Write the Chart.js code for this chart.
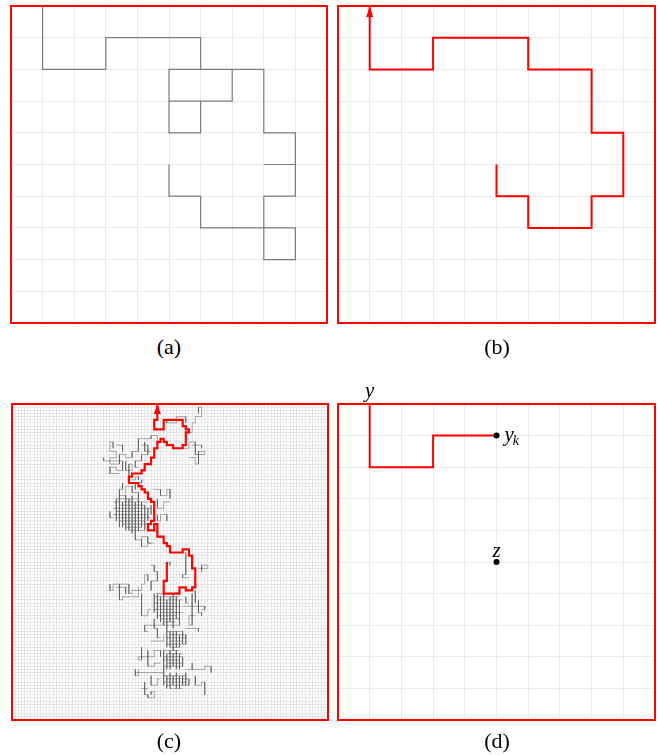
<!DOCTYPE html>
<html>
<head>
<meta charset="utf-8">
<script src="https://cdn.jsdelivr.net/npm/chart.js@4.4.1/dist/chart.umd.min.js"></script>
<style>
  html, body { margin: 0; padding: 0; background: #fff; }
  body { width: 659px; height: 755px; position: relative; overflow: hidden; }
  canvas { position: absolute; }
  .cap { position: absolute; width: 60px; text-align: center; line-height: 1;
         font-family: "Liberation Serif", "Times New Roman", serif; font-size: 22px; color: #000; }
</style>
</head>
<body>
<canvas id="panelA" width="338" height="334" style="left:0;top:0;width:338px;height:334px"></canvas>
<canvas id="panelB" width="331" height="334" style="left:328px;top:0;width:331px;height:334px"></canvas>
<canvas id="panelC" width="338" height="350" style="left:0;top:380px;width:338px;height:350px"></canvas>
<canvas id="panelD" width="331" height="355" style="left:328px;top:375px;width:331px;height:355px"></canvas>
<div class="cap" id="capA" style="left:139px;top:336px"></div>
<div class="cap" id="capB" style="left:467px;top:336px"></div>
<div class="cap" id="capC" style="left:139px;top:730px"></div>
<div class="cap" id="capD" style="left:467px;top:730px"></div>
<script>
// ---- data: lattice coordinates [column, row], rows counted from the top ----

// (a) simple random walk on a 10x10 box, started at z = (5,5)
const walkA = [[5,5],[5,6],[6,6],[6,7],[8,7],[9,7],[9,8],[8,8],[8,6],[9,6],[9,5],[8,5],[9,5],
  [9,4],[8,4],[8,2],[7,2],[7,3],[5,3],[5,4],[6,4],[6,3],[5,3],[5,2],[7,2],[6,2],[6,1],
  [3,1],[3,2],[1,2],[1,0]];

// (b) its loop erasure
const pathB = [[5,5],[5,6],[6,6],[6,7],[8,7],[8,6],[9,6],[9,4],[8,4],[8,2],[6,2],[6,1],
  [3,1],[3,2],[1,2],[1,0]];

// (c) loop-erased path on the 100x100 box
const pathC = [[49,50],[49,56],[48,56],[48,60],[53,60],[53,58],[55,58],[55,59],[57,59],[57,58],
  [58,58],[58,52],[57,52],[57,48],[56,48],[56,46],[54,46],[54,47],[50,47],[50,45],[49,45],
  [49,44],[48,44],[48,42],[46,42],[46,38],[45,38],[45,40],[43,40],[43,38],[44,38],[44,37],
  [45,37],[45,31],[44,31],[44,30],[43,30],[43,28],[42,28],[42,27],[41,27],[41,26],[40,26],
  [40,25],[37,25],[37,23],[38,23],[38,22],[41,22],[41,21],[42,21],[42,19],[44,19],[44,17],
  [45,17],[45,14],[46,14],[46,12],[47,12],[47,11],[48,11],[48,12],[49,12],[49,13],[51,13],
  [51,14],[54,14],[54,13],[55,13],[55,9],[56,9],[56,8],[55,8],[55,7],[54,7],[54,5],[48,5],
  [48,8],[45,8],[45,5],[46,5],[46,0]];

// (c) pieces of the full walk that were erased: open polylines
const cloudPaths = [
  // near the exit
  [[55,9],[57,9],[57,6],[58,6],[58,4],[60,4],[60,1],[59,1],[59,3]],
  [[49,5],[49,6],[52,6],[52,4],[55,4],[55,6]],
  [[54,14],[56,14],[56,12],[58,12],[58,16],[61,16],[61,15],[59,15],[59,19],[58,19],[58,17],[56,17]],
  [[57,13],[60,13],[60,14]],
  // upper left cluster
  [[46,12],[46,10],[44,10],[44,11],[40,11],[40,15],[38,15],[38,17],[36,17],[36,16],[34,16],
   [34,19],[31,19],[31,17],[33,17],[33,15],[31,15],[31,12],[32,12],[32,14]],
  [[29,17],[29,18],[35,18],[35,21],[33,21],[33,20],[31,20],[31,22],[34,22]],
  [[36,18],[36,21],[38,21],[38,19],[37,19],[37,22]],
  [[41,13],[43,13],[43,16],[41,16],[41,18],[39,18],[39,20],[40,20]],
  [[42,12],[42,15],[44,15]],
  [[33,13],[35,13],[35,15]],
  // middle cluster, loose parts
  [[37,22],[37,24],[39,24],[39,23],[40,23],[40,24]],
  [[35,25],[35,27],[34,27],[34,29],[36,29],[36,26],[38,26],[38,28],[40,28],[40,30]],
  [[41,24],[41,25],[39,25],[39,27]],
  [[45,27],[47,27],[47,29],[49,29],[49,27],[50,27],[50,30]],
  [[46,30],[46,33],[48,33],[48,31],[50,31]],
  [[46,35],[46,37],[47,37],[47,35],[49,35],[49,37]],
  [[39,41],[39,43],[41,43],[41,42],[43,42],[43,44],[44,44]],
  [[31,34],[31,36],[32,36]],
  [[44,32],[44,35]],
  // lower cluster, loose parts
  [[41,43],[41,45],[43,45],[43,44],[45,44]],
  [[44,51],[45,51],[45,53],[46,53],[46,56],[44,56],[44,59]],
  [[31,57],[31,59],[32,59],[32,57],[37,57],[37,60],[38,60],[38,59],[41,59],[41,57],[42,57],
   [42,54],[43,54],[43,56]],
  [[34,57],[34,62],[35,62],[35,61],[40,61],[40,58]],
  [[33,58],[36,58],[36,60]],
  [[41,60],[41,67],[43,67],[43,65],[44,65]],
  [[55,47],[55,54],[54,54],[54,55],[56,55]],
  [[49,50],[50,50],[50,51]],
  [[59,52],[62,52],[62,51],[60,51],[60,53]],
  [[58,59],[58,63]],
  [[54,64],[61,64],[61,65],[60,65]],
  [[57,60],[57,70],[56,70],[56,67],[58,67]],
  [[59,62],[59,66],[60,66],[60,67]],
  [[55,61],[55,63],[56,63]],
  [[42,70],[49,70],[49,72]],
  [[42,70],[42,72],[43,72]],
  [[45,68],[45,71],[46,71],[46,74],[47,74]],
  [[44,75],[48,75],[48,73]],
  [[55,71],[59,71],[59,72]],
  [[41,77],[41,81],[40,81],[40,80],[45,80],[45,78],[47,78],[47,80]],
  [[43,78],[43,83],[45,83],[45,82],[47,82]],
  [[39,84],[39,86],[40,86],[40,84]],
  [[39,85],[48,85]],
  [[55,84],[61,84],[61,83],[63,83],[63,85]],
  [[58,86],[58,89],[60,89],[60,88],[61,88],[61,92]],
  [[57,82],[57,84]],
  [[44,86],[44,89],[46,89],[46,87],[47,87]],
  [[42,88],[42,92],[43,92],[43,93],[45,93],[45,91],[44,91],[44,92]],
  [[41,90],[43,90]]
];
// (c) densely revisited patches: horizontal runs [row, fromCol, toCol]
const cloudMeshH = [
  [30,33,40],[31,32,43],[32,34,42],[33,32,44],[34,33,41],[35,32,43],[36,33,44],[37,34,42],
  [38,35,43],[39,36,41],[40,37,42],
  [60,46,52],[61,45,53],[62,46,54],[63,45,52],[64,46,53],[65,45,51],[66,47,54],[67,46,52],
  [68,47,53],[69,48,52],[70,49,53],
  [72,49,54],[73,50,55],[74,49,55],[75,50,54],[76,49,55],[77,50,53],
  [78,48,53],[79,49,54],[80,48,54],[81,48,53],[82,49,54],[83,48,54],
  [86,48,55],[87,49,56],[88,48,55],[89,49,56],[90,50,54]
];
// (c) densely revisited patches: vertical runs [col, fromRow, toRow]
const cloudMeshV = [
  [33,30,37],[34,29,39],[35,31,39],[36,29,40],[37,30,40],[38,29,41],[39,31,41],[40,30,40],
  [41,31,39],[42,32,40],[43,33,37],
  [45,60,66],[46,60,68],[47,61,69],[48,60,70],[49,62,70],[50,61,69],[51,60,71],[52,61,68],
  [53,62,70],
  [49,72,77],[50,72,77],[51,72,78],[52,72,77],[53,73,77],[54,72,76],[55,73,76],
  [48,78,85],[49,79,84],[50,78,84],[51,79,83],[52,78,84],[53,79,84],[54,80,83],
  [48,85,89],[49,86,90],[50,85,90],[51,86,89],[52,85,90],[53,86,90],[54,86,89],[55,85,89],
  [56,87,89]
];

// (d) first k steps of the erased path, from the entry point y to y_k, and the centre z
const pathD = [[1,0],[1,2],[3,2],[3,1],[5,1]];
const pointYk = [5,1];
const pointZ = [5,5];

const captions = ['(a)', '(b)', '(c)', '(d)'];

// ---- helpers ----
const RED = '#ff0000';
const toXY = list => list.map(([x, y]) => ({x, y}));
const GAP = {x: null, y: null};
function cloudPoints(paths, meshH, meshV) {
  const pts = [];
  paths.forEach(p => { p.forEach(([x, y]) => pts.push({x, y})); pts.push(GAP); });
  meshH.forEach(([r, c0, c1]) => pts.push({x: c0, y: r}, {x: c1, y: r}, GAP));
  meshV.forEach(([c, r0, r1]) => pts.push({x: c, y: r0}, {x: c, y: r1}, GAP));
  return pts;
}

// red frame around the plotting area
const framePlugin = {
  id: 'frame',
  afterDraw(chart) {
    const {ctx, chartArea: a} = chart;
    ctx.save();
    ctx.strokeStyle = RED;
    ctx.lineWidth = 2;
    ctx.strokeRect(a.left, a.top, a.right - a.left, a.bottom - a.top);
    ctx.restore();
  }
};

// filled arrow head at the last point of datasets that ask for one
const arrowPlugin = {
  id: 'arrowHead',
  afterDatasetsDraw(chart) {
    const ctx = chart.ctx;
    chart.data.datasets.forEach((ds, i) => {
      if (!ds.arrow) return;
      const pts = chart.getDatasetMeta(i).data;
      const tip = pts[pts.length - 1], prev = pts[pts.length - 2];
      const ang = Math.atan2(tip.y - prev.y, tip.x - prev.x);
      const L = ds.arrow.length, H = ds.arrow.width / 2;
      const c = Math.cos(ang), s = Math.sin(ang);
      ctx.save();
      ctx.fillStyle = ds.borderColor;
      ctx.beginPath();
      ctx.moveTo(tip.x, tip.y);
      ctx.lineTo(tip.x - L * c - H * s, tip.y - L * s + H * c);
      ctx.lineTo(tip.x - L * c + H * s, tip.y - L * s - H * c);
      ctx.closePath();
      ctx.fill();
      ctx.restore();
    });
  }
};

// math labels of panel (d), placed at lattice points
const labelPlugin = {
  id: 'mathLabels',
  afterDraw(chart) {
    const o = chart.options.plugins.mathLabels;
    if (!o || !o.items) return;
    const {ctx, scales: {x, y}} = chart;
    ctx.save();
    ctx.fillStyle = '#000';
    ctx.textBaseline = 'alphabetic';
    o.items.forEach(it => {
      const px = x.getPixelForValue(it.at[0]) + it.dx;
      const py = y.getPixelForValue(it.at[1]) + it.dy;
      ctx.font = 'italic 21px "Liberation Serif", serif';
      ctx.textAlign = it.align || 'center';
      ctx.fillText(it.text, px, py);
      if (it.sub) {
        const w = ctx.measureText(it.text).width;
        ctx.font = 'italic 14px "Liberation Serif", serif';
        ctx.textAlign = 'left';
        ctx.fillText(it.sub, px + w - 1, py + 4);
      }
    });
    ctx.restore();
  }
};

function makeScales(n, gridColor, gridWidth) {
  const axis = {
    type: 'linear', min: 0, max: n,
    ticks: { display: false, stepSize: 1, autoSkip: false },
    grid: { color: gridColor, lineWidth: gridWidth, drawTicks: false },
    border: { display: false }
  };
  return { x: {...axis}, y: {...axis, reverse: true} };
}

function lineSet(list, color, width, order, extra) {
  return Object.assign({
    data: list, showLine: true, borderColor: color, backgroundColor: color,
    borderWidth: width, pointRadius: 0, pointHoverRadius: 0, tension: 0,
    borderJoinStyle: 'miter', borderCapStyle: 'butt', spanGaps: false, order
  }, extra || {});
}

function makeChart(id, datasets, n, grid, padding, extraPlugins) {
  return new Chart(document.getElementById(id), {
    type: 'scatter',
    data: { datasets },
    options: {
      responsive: false, animation: false, devicePixelRatio: 1,
      layout: { padding },
      scales: makeScales(n, grid.color, grid.width),
      plugins: Object.assign({ legend: { display: false }, tooltip: { enabled: false } }, extraPlugins || {}),
      events: []
    },
    plugins: [framePlugin, arrowPlugin, labelPlugin]
  });
}

const fineGrid = { color: '#ebebeb', width: 1 };

makeChart('panelA', [
  lineSet(toXY(walkA), 'rgba(85,85,85,0.75)', 1.2, 1)
], 10, fineGrid, { left: 11, top: 6, right: 11, bottom: 11 });

makeChart('panelB', [
  lineSet(toXY(pathB), RED, 2, 1, { arrow: { length: 11, width: 7 } })
], 10, fineGrid, { left: 10, top: 6, right: 4, bottom: 11 });

makeChart('panelC', [
  lineSet(toXY(pathC), RED, 2.2, 1, { arrow: { length: 10, width: 7 } }),
  lineSet(cloudPoints(cloudPaths, cloudMeshH, cloudMeshV), 'rgba(60,60,60,0.45)', 0.9, 2)
], 100, { color: '#e8e8e8', width: 1 }, { left: 12, top: 24, right: 10, bottom: 10 });

makeChart('panelD', [
  lineSet(toXY(pathD), RED, 2, 2),
  { data: toXY([pointYk, pointZ]), showLine: false, pointRadius: 3, pointHoverRadius: 3,
    backgroundColor: '#000', borderColor: '#000', borderWidth: 0, order: 1 }
], 10, fineGrid, { left: 10, top: 29, right: 4, bottom: 10 }, {
  mathLabels: { items: [
    { text: 'y', at: pathD[0], dx: 0, dy: -7 },
    { text: 'y', sub: 'k', at: pointYk, dx: 8, dy: 5, align: 'left' },
    { text: 'z', at: pointZ, dx: 0, dy: -5 }
  ] }
});

['capA', 'capB', 'capC', 'capD'].forEach((id, i) => {
  document.getElementById(id).textContent = captions[i];
});
</script>
</body>
</html>
